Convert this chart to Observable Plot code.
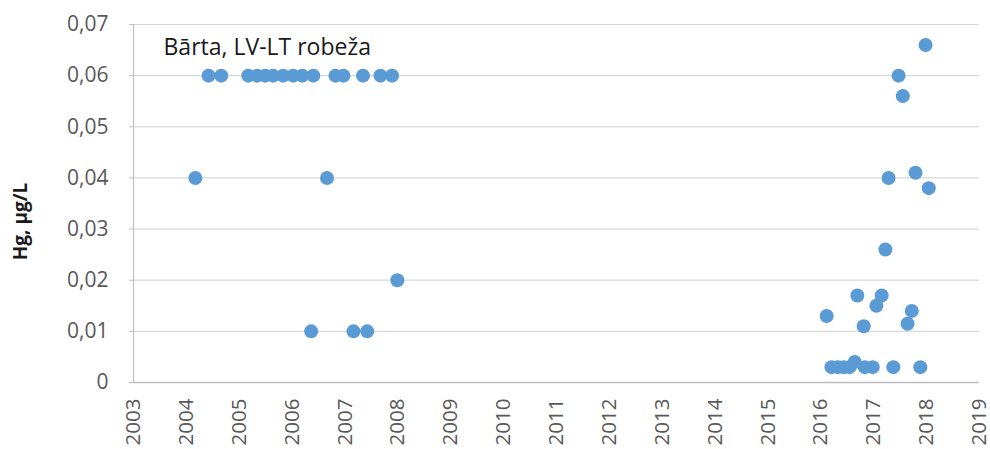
<!DOCTYPE html>
<html>
<head>
<meta charset="utf-8">
<script src="https://cdn.jsdelivr.net/npm/d3@7"></script>
<script src="https://cdn.jsdelivr.net/npm/@observablehq/plot@0.6"></script>
<style>
  html, body { margin: 0; padding: 0; background: #fff; }
  #chart svg { display: block; }
</style>
</head>
<body>
<div id="chart"></div>
<script>
// Sampling dates (decimal years) and Hg concentration (µg/L)
const dates = [
  2004.17, 2004.42, 2004.66, 2005.17, 2005.34, 2005.49, 2005.64, 2005.83,
  2006.02, 2006.19, 2006.36, 2006.40, 2006.66, 2006.82, 2006.97, 2007.16,
  2007.34, 2007.42, 2007.67, 2007.89, 2007.99,
  2016.11, 2016.20, 2016.32, 2016.43, 2016.54, 2016.64, 2016.69, 2016.81,
  2016.83, 2016.98, 2017.05, 2017.15, 2017.22, 2017.28, 2017.37, 2017.47,
  2017.55, 2017.64, 2017.72, 2017.79, 2017.88, 2017.98, 2018.04
];
const hg = [
  0.040, 0.060, 0.060, 0.060, 0.060, 0.060, 0.060, 0.060,
  0.060, 0.060, 0.010, 0.060, 0.040, 0.060, 0.060, 0.010,
  0.060, 0.010, 0.060, 0.060, 0.020,
  0.013, 0.003, 0.003, 0.003, 0.003, 0.004, 0.017, 0.011,
  0.003, 0.003, 0.015, 0.017, 0.026, 0.040, 0.003, 0.060,
  0.056, 0.0115, 0.014, 0.041, 0.003, 0.066, 0.038
];
const yearTicks = d3.range(2003, 2020);
const valueTicks = [0, 0.01, 0.02, 0.03, 0.04, 0.05, 0.06, 0.07];
const titleText = "Bārta, LV-LT robeža";
const yLabel = "Hg, µg/L";

const data = dates.map((d, i) => ({date: d, hg: hg[i]}));
const fmtY = v => v === 0 ? "0" : v.toFixed(2).replace(".", ",");

const chart = Plot.plot({
  width: 990,
  height: 449,
  marginLeft: 133,
  marginRight: 11,
  marginTop: 24,
  marginBottom: 67,
  style: {fontFamily: "'Open Sans', sans-serif", fontSize: "21px", color: "#595959", background: "#fff"},
  x: {domain: [2003, 2019]},
  y: {domain: [0, 0.07]},
  marks: [
    Plot.ruleY(valueTicks, {stroke: "#d9d9d9", strokeWidth: 1.2}),
    Plot.ruleX([2003], {stroke: "#bfbfbf", strokeWidth: 1.2}),
    Plot.ruleY([0], {stroke: "#bfbfbf", strokeWidth: 1.5}),
    Plot.axisY({ticks: valueTicks, tickFormat: fmtY, tickSize: 4, tickPadding: 21, stroke: "#bfbfbf", fill: "#595959", label: null}),
    Plot.axisX({ticks: yearTicks, tickFormat: d3.format("d"), tickRotate: -90, tickSize: 0, tickPadding: 16, fontSize: 20.5, fill: "#595959", label: null}),
    Plot.dot(data, {x: "date", y: "hg", r: 7, fill: "#5b9bd5", stroke: "none"}),
    Plot.text([titleText], {frameAnchor: "top-left", dx: 30, dy: 14, lineAnchor: "top", textAnchor: "start", fontSize: 23, fill: "#1a1a1a"}),
    Plot.text([yLabel], {frameAnchor: "left", dx: -113, dy: 18, rotate: -90, textAnchor: "middle", fontWeight: "bold", fontSize: 19, fill: "#1a1a1a"})
  ]
});
document.getElementById("chart").appendChild(chart);
</script>
</body>
</html>
